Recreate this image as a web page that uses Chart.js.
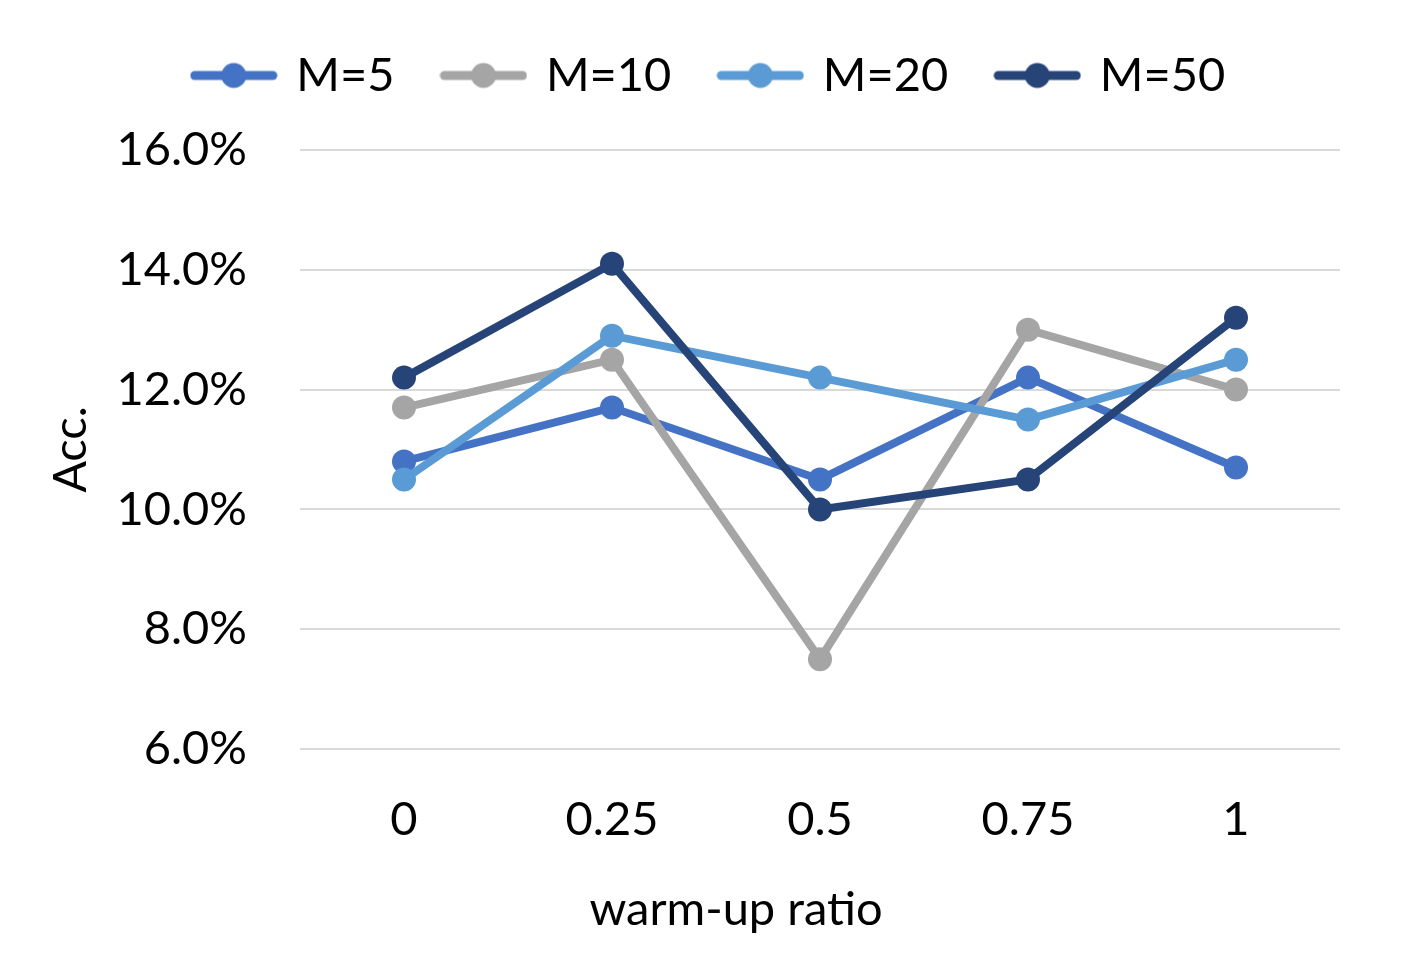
<!DOCTYPE html>
<html>
<head>
<meta charset="utf-8">
<script src="https://cdn.jsdelivr.net/npm/chart.js@4.4.1/dist/chart.umd.min.js"></script>
<style>
  html, body { margin: 0; padding: 0; background: #ffffff; }
  #wrap { width: 1420px; height: 957px; }
</style>
</head>
<body>
<div id="wrap"><canvas id="c" width="1420" height="957"></canvas></div>
<script>
const categories = ['0', '0.25', '0.5', '0.75', '1'];
const seriesNames = ['M=5', 'M=10', 'M=20', 'M=50'];
const m5  = [10.8, 11.7, 10.5, 12.2, 10.7];
const m10 = [11.7, 12.5, 7.5, 13.0, 12.0];
const m20 = [10.5, 12.9, 12.2, 11.5, 12.5];
const m50 = [12.2, 14.1, 10.0, 10.5, 13.2];
const colors = ['#4472C4', '#A5A5A5', '#5B9BD5', '#264478'];
const yTicks = [6, 8, 10, 12, 14, 16];
const xTitle = 'warm-up ratio';
const yTitle = 'Acc.';

const FONT = 'Lato, Carlito, "Open Sans", sans-serif';
const FS = 47;

function legendIcon(color) {
  const cv = document.createElement('canvas');
  cv.width = 88; cv.height = 28;
  const g = cv.getContext('2d');
  g.strokeStyle = color; g.lineWidth = 9; g.lineCap = 'round';
  g.beginPath(); g.moveTo(5, 14); g.lineTo(83, 14); g.stroke();
  g.fillStyle = color;
  g.beginPath(); g.arc(44, 14, 12.5, 0, Math.PI * 2); g.fill();
  return cv;
}
const icons = colors.map(legendIcon);

const allData = [m5, m10, m20, m50];
const datasets = allData.map((d, i) => ({
  label: seriesNames[i],
  data: d,
  borderColor: colors[i],
  backgroundColor: colors[i],
  borderWidth: 8,
  pointRadius: 12,
  pointHoverRadius: 12,
  pointBorderWidth: 0,
  pointBackgroundColor: colors[i],
  tension: 0,
  order: allData.length - i
}));

const legendSpacer = {
  id: 'legendSpacer',
  beforeInit(chart) {
    const fit = chart.legend.fit;
    chart.legend.fit = function () { fit.call(this); this.height = 148; };
  }
};

// x-axis title, centred like the original (slightly right of the canvas centre)
const xTitlePlugin = {
  id: 'xTitlePlugin',
  afterDraw(chart) {
    const ctx = chart.ctx;
    ctx.save();
    ctx.font = FS + 'px ' + FONT;
    ctx.fillStyle = '#000';
    ctx.textAlign = 'center';
    ctx.textBaseline = 'middle';
    const xs = chart.scales.x;
    ctx.fillText(xTitle, chart.width / 2 + 26, xs.bottom - FS * 0.6 - 4);
    ctx.restore();
  }
};

new Chart(document.getElementById('c'), {
  type: 'line',
  data: { labels: categories, datasets },
  plugins: [legendSpacer, xTitlePlugin],
  options: {
    responsive: false,
    animation: false,
    devicePixelRatio: 1,
    layout: { padding: { left: 80, right: 80, top: 2, bottom: 15 } },
    plugins: {
      tooltip: { enabled: false },
      legend: {
        position: 'top',
        align: 'center',
        labels: {
          usePointStyle: true,
          pointStyleWidth: 78,
          boxHeight: 28,
          padding: 50,
          color: '#000',
          font: { family: FONT, size: FS },
          generateLabels(chart) {
            return chart.data.datasets.map((ds, i) => ({
              text: ds.label,
              fillStyle: ds.borderColor,
              strokeStyle: ds.borderColor,
              lineWidth: 0,
              pointStyle: icons[i],
              hidden: false,
              datasetIndex: i,
              fontColor: '#000'
            }));
          }
        }
      }
    },
    scales: {
      x: {
        type: 'category',
        offset: true,
        afterFit(axis) { axis.height = 193; },
        grid: { display: false, drawTicks: false },
        border: { display: false },
        ticks: { color: '#000', font: { family: FONT, size: FS }, padding: 43 },
        title: { display: false, text: xTitle }
      },
      y: {
        min: 6, max: 16,
        afterBuildTicks(axis) { axis.ticks = yTicks.map(v => ({ value: v })); },
        afterFit(axis) { axis.width = 220; },
        grid: { color: '#D9D9D9', lineWidth: 2, drawTicks: false },
        border: { display: false },
        ticks: {
          color: '#000', font: { family: FONT, size: FS }, padding: 53,
          callback: v => v.toFixed(1) + '%'
        },
        title: { display: true, text: yTitle, color: '#000', font: { family: FONT, size: FS }, padding: { top: -37, bottom: 0 } }
      }
    }
  }
});
</script>
</body>
</html>
